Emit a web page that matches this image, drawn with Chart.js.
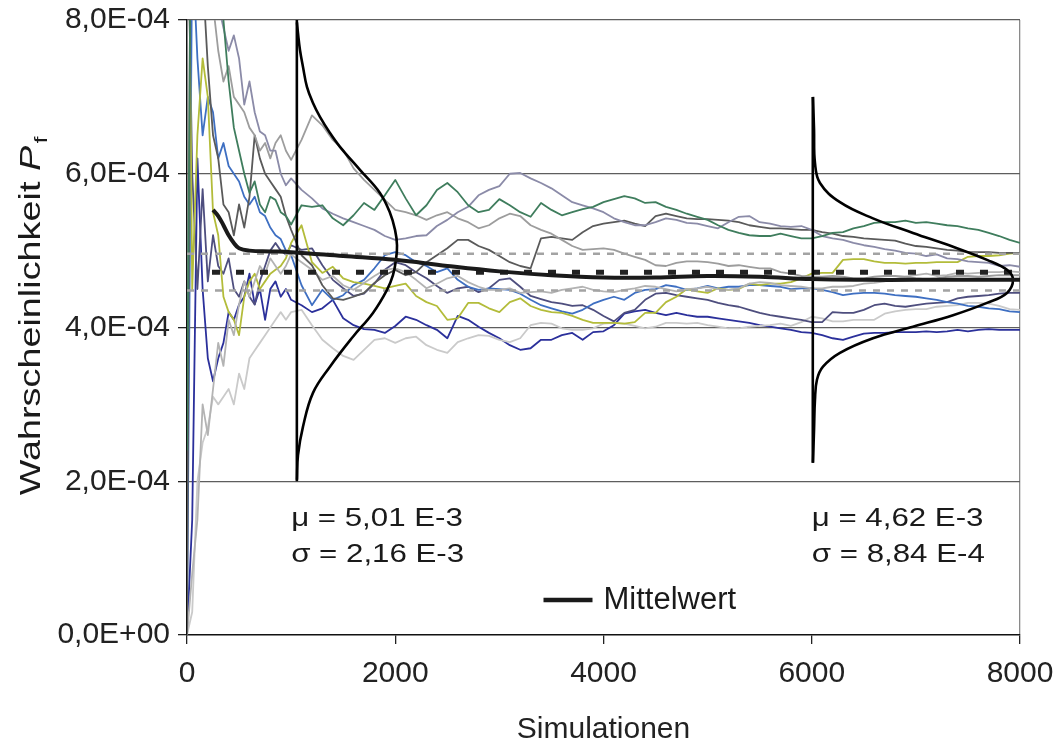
<!DOCTYPE html>
<html>
<head>
<meta charset="utf-8">
<script src="https://cdn.jsdelivr.net/npm/chart.js@4.4.1/dist/chart.umd.min.js"></script>
<style>
  html, body { margin: 0; padding: 0; background: #fff; }
  canvas { display: block; }
</style>
</head>
<body>
<canvas id="pfChart" width="1061" height="746"></canvas>
<script>
// all probabilities below are in units of 1E-04

// number of simulations: every 50 up to 1000, then every 100
const sims = [];
for (let s = 0; s <= 1000; s += 50) sims.push(s);
for (let s = 1100; s <= 8000; s += 100) sims.push(s);

const runGreen = [2.4,12,11,10.5,9.5,9,8.6,8.0,7.2,6.6,6.3,6.0,5.75,5.9,5.6,5.5,5.7,5.66,5.5,5.45,5.34,
  5.59,5.57,5.59,5.42,5.33,5.46,5.62,5.53,5.72,5.92, 5.68,5.46,5.59,5.79,5.88,5.76,5.59,5.50,5.53,5.67,
  5.59,5.50,5.44,5.62,5.53,5.46,5.50,5.54,5.57,5.63, 5.67,5.71,5.68,5.62,5.63,5.57,5.53,5.48,5.44,5.40,
  5.33,5.27,5.23,5.20,5.19,5.19,5.22,5.19,5.16,5.16, 5.19,5.23,5.24,5.29,5.32,5.36,5.37,5.37,5.39,5.36,
  5.37,5.35,5.33,5.32,5.29,5.27,5.23,5.19,5.14,5.10];
const runLavender = [15,13,11,9.5,8.5,8.2,8.2,7.9,7.6,7.8,7.5,6.9,7.2,6.8,6.55,6.5,6.3,6.3,6.0,5.85,5.94,
  5.79,5.68,5.55,5.48,5.42,5.37,5.32,5.27,5.19,5.14, 5.16,5.19,5.20,5.32,5.40,5.50,5.57,5.72,5.79,5.84,
  6.00,6.01,5.94,5.88,5.81,5.72,5.63,5.59,5.55,5.50, 5.42,5.37,5.33,5.33,5.37,5.42,5.40,5.36,5.35,5.32,
  5.29,5.37,5.44,5.45,5.37,5.35,5.32,5.31,5.32,5.27, 5.19,5.16,5.14,5.10,5.07,5.05,5.02,5.00,4.97,4.96,
  4.93,4.95,4.90,4.89,4.86,4.85,4.84,4.80,4.81,4.79];
const runDarkGray = [0,14,10,8.6,7.4,6.5,6.2,5.6,5.5,5.2,5.6,5.3,5.7,6.5,6.2,6.0,5.9,5.8,5.7,5.45,5.27,
  4.94,4.81,4.55,4.38,4.36,4.40,4.45,4.58,4.68,4.75, 4.68,4.72,4.85,4.94,5.03,5.14,5.14,5.06,5.01,4.93,
  4.85,4.80,4.77,5.16,5.18,5.16,5.14,5.24,5.32,5.35, 5.37,5.39,5.35,5.32,5.45,5.48,5.45,5.42,5.41,5.41,
  5.40,5.39,5.37,5.33,5.31,5.29,5.29,5.28,5.27,5.27, 5.24,5.22,5.19,5.18,5.16,5.15,5.14,5.13,5.09,5.06,
  5.05,5.03,5.01,5.00,4.98,4.98,4.98,4.97,4.97,4.97];
const runYellow = [12,4.5,6.5,7.5,7.0,5.5,5.2,4.4,4.2,4.1,3.9,4.4,4.6,4.7,4.5,4.6,4.7,4.75,4.8,4.9,5.1,
  5.33,4.85,4.71,4.79,4.64,4.59,4.57,4.54,4.51,4.54, 4.57,4.41,4.33,4.28,4.10,4.12,4.32,4.32,4.25,4.20,
  4.33,4.38,4.28,4.23,4.20,4.19,4.15,4.10,4.06,4.06, 4.06,4.05,4.07,4.19,4.19,4.33,4.40,4.50,4.47,4.45,
  4.51,4.49,4.50,4.57,4.55,4.57,4.57,4.59,4.64,4.70, 4.71,4.71,4.88,4.89,4.89,4.86,4.84,4.84,4.83,4.84,
  4.84,4.85,4.85,4.85,4.92,4.93,4.93,4.94,4.96,4.97];
const runBlue = [0,9,7.5,6.5,7.0,6.8,6.2,6.4,6.1,6.0,5.9,5.7,5.6,5.7,5.5,5.45,5.3,5.2,5.15,5.0,4.94,
  4.55,4.29,4.49,4.36,4.42,4.55,4.62,4.77,4.94,4.98, 4.94,4.85,4.80,4.72,4.77,4.62,4.53,4.49,4.51,4.50,
  4.49,4.44,4.36,4.29,4.25,4.21,4.18,4.23,4.31,4.36, 4.40,4.36,4.45,4.49,4.50,4.55,4.53,4.49,4.51,4.54,
  4.51,4.53,4.53,4.55,4.55,4.54,4.53,4.50,4.51,4.51, 4.49,4.46,4.42,4.44,4.45,4.45,4.44,4.42,4.41,4.40,
  4.38,4.36,4.33,4.31,4.28,4.27,4.25,4.24,4.21,4.20];
const runNavy = [0,1.5,6.2,4.5,3.6,3.3,3.6,3.8,4.2,4.1,4.3,4.4,4.7,4.3,4.5,4.1,4.5,4.6,4.4,4.5,4.36,
  4.29,4.20,4.25,4.36,4.12,4.03,3.98,3.97,3.93,4.02, 4.14,4.10,4.03,3.97,3.86,4.15,4.10,4.01,3.93,3.86,
  3.77,3.71,3.73,3.84,3.84,3.90,3.93,3.84,3.94,3.95, 4.03,4.18,4.21,4.23,4.19,4.16,4.19,4.16,4.14,4.14,
  4.12,4.10,4.08,4.06,4.03,4.01,3.99,3.97,3.94,3.93, 3.90,3.86,3.84,3.88,3.92,3.93,3.93,3.94,3.94,3.94,
  3.95,3.94,3.95,3.97,3.95,3.97,3.98,3.97,3.97,3.97];
const runPurple = [10,6.0,4.5,5.8,4.6,5.2,4.8,4.7,4.9,4.5,4.4,4.6,4.4,4.3,4.6,4.8,5.0,5.1,5.0,4.95,5.07,
  5.01,5.03,4.81,4.62,4.51,4.41,4.44,4.57,4.75,4.85, 4.81,4.72,4.64,4.54,4.45,4.51,4.53,4.46,4.51,4.62,
  4.64,4.53,4.41,4.37,4.33,4.31,4.28,4.29,4.23,4.15, 4.08,4.19,4.23,4.36,4.44,4.45,4.42,4.40,4.38,4.36,
  4.32,4.29,4.27,4.23,4.19,4.16,4.14,4.12,4.10,4.07, 4.07,4.20,4.19,4.19,4.23,4.29,4.31,4.28,4.27,4.29,
  4.31,4.32,4.33,4.38,4.40,4.41,4.42,4.44,4.45,4.45];
const runLightGray = [0,0.3,2.0,2.5,2.7,3.1,3.0,3.1,3.2,3.0,3.4,3.2,3.6,3.7,3.8,3.9,4.0,4.1,4.2,4.1,4.2,
  4.23,4.03,3.84,3.73,3.63,3.58,3.71,3.84,3.86,3.80, 3.86,3.88,3.77,3.71,3.67,3.81,3.86,3.90,3.89,3.84,
  3.81,3.86,4.03,4.06,4.05,3.99,3.97,3.97,3.99,4.05, 4.06,4.05,4.02,3.99,4.01,4.06,4.06,4.05,4.06,4.03,
  4.01,3.99,3.99,4.01,4.02,4.03,4.05,4.02,4.07,4.14, 4.12,4.08,4.08,4.10,4.10,4.10,4.18,4.21,4.23,4.24,
  4.24,4.27,4.28,4.29,4.32,4.32,4.31,4.28,4.24,4.23];
const runMidGray = [15,12,10,9.0,8.5,8.2,7.6,7.2,7.4,7.0,6.9,6.8,6.6,6.5,6.3,6.4,6.2,6.4,6.5,6.3,6.18,
  6.44,6.76,6.63,6.44,6.31,6.07,5.92,5.79,5.66,5.53, 5.50,5.46,5.40,5.46,5.50,5.42,5.37,5.29,5.33,5.42,
  5.48,5.45,5.33,5.27,5.22,5.14,5.06,5.01,5.02,5.03, 5.01,4.96,4.92,4.88,4.81,4.80,4.84,4.86,4.86,4.85,
  4.83,4.80,4.81,4.79,4.77,4.77,4.72,4.70,4.67,4.66, 4.66,4.67,4.66,4.64,4.64,4.66,4.67,4.67,4.66,4.64,
  4.63,4.64,4.66,4.67,4.67,4.66,4.67,4.68,4.68,4.68];
const runPaleGray = [0,0.8,1.5,3.0,2.6,3.2,3.8,3.5,4.1,3.9,4.3,4.6,4.4,4.6,4.8,4.7,4.9,4.8,4.7,4.8,4.95,
  4.85,4.75,4.62,4.67,4.55,4.49,4.58,4.67,4.75,4.77, 4.72,4.62,4.51,4.57,4.64,4.67,4.59,4.53,4.49,4.49,
  4.51,4.45,4.46,4.47,4.45,4.49,4.51,4.53,4.49,4.47, 4.46,4.49,4.51,4.54,4.53,4.50,4.47,4.50,4.51,4.53,
  4.50,4.49,4.51,4.57,4.59,4.58,4.55,4.54,4.53,4.51, 4.51,4.53,4.53,4.54,4.57,4.58,4.60,4.63,4.66,4.68,
  4.70,4.67,4.68,4.71,4.70,4.71,4.72,4.72,4.73,4.72];

// running mean of all simulations
const meanSims   = [250,300,350,400,450,500,600,800,1000,1500,2000,2500,3000,3500,4000,4500,5000,5500,6000,6500,7000,7500,8000];
const meanValues = [5.53,5.45,5.33,5.20,5.10,5.03,5.00,4.99,4.98,4.93,4.88,4.80,4.73,4.68,4.65,4.65,4.67,4.66,4.63,4.62,4.62,4.62,4.62];

// reference levels: target value and band
const refTarget = 4.72;
const refBand = [4.96, 4.48];

// fitted distributions drawn sideways (x = simulations, y = probability)
const dist1Sims   = [1056,1066,1085,1114,1152,1210,1277,1373,1469,1661,1853,1950,1998,2017,2007,1978,1921,1786,1594,1373,1210,1114,1066,1056];
const dist1Values = [7.97,7.83,7.61,7.39,7.13,6.92,6.74,6.53,6.35,6.05,5.75,5.49,5.27,5.07,4.88,4.68,4.49,4.19,3.88,3.49,3.15,2.71,2.34,2.02];
const dist1Base = { sims: 1055, from: 2.0, to: 8.0 };
const dist2Sims   = [6012,6022,6031,6079,6271,6588,6972,7357,7683,7875,7933,7875,7683,7357,6972,6588,6271,6108,6050,6031,6022,6012];
const dist2Values = [7.00,6.57,6.14,5.88,5.63,5.42,5.23,5.05,4.88,4.75,4.62,4.45,4.32,4.16,4.01,3.86,3.67,3.49,3.32,3.06,2.67,2.24];
const dist2Base = { sims: 6010, from: 2.24, to: 7.0 };

const notes = [
  { at: 1000, lines: ['\u03bc = 5,01 E-3', '\u03c3 = 2,16 E-3'] },
  { at: 6000, lines: ['\u03bc = 4,62 E-3', '\u03c3 = 8,84 E-4'] }
];
const noteRows = [1.42, 0.95];

const xTicks = [0, 2000, 4000, 6000, 8000];
const FONT = '"Liberation Sans", Arial, sans-serif';

const pts = (xs, ys) => xs.map((x, i) => ({ x: x, y: ys[i] }));

const runs = [
  { data: runGreen, color: '#3f7d5d' },
  { data: runLavender, color: '#8b8ba8' },
  { data: runMidGray, color: '#9d9d9d' },
  { data: runDarkGray, color: '#5a5a5a' },
  { data: runPaleGray, color: '#b3b3b3' },
  { data: runYellow, color: '#b3bc3a' },
  { data: runBlue, color: '#3e6fc2' },
  { data: runPurple, color: '#4e4e7e' },
  { data: runLightGray, color: '#cacaca' },
  { data: runNavy, color: '#2b309b' }
];

const datasets = [
  { label: 'Mittelwert', data: pts(meanSims, meanValues), borderColor: '#1a1a1a', borderWidth: 4, tension: 0.4 },
  { label: 'dist1', data: pts(dist1Sims, dist1Values), borderColor: '#000', borderWidth: 2.6, tension: 0.4 },
  { label: 'dist1base', data: [{ x: dist1Base.sims, y: dist1Base.from }, { x: dist1Base.sims, y: dist1Base.to }], borderColor: '#000', borderWidth: 2.6 },
  { label: 'dist2', data: pts(dist2Sims, dist2Values), borderColor: '#000', borderWidth: 2.6, tension: 0.4 },
  { label: 'dist2base', data: [{ x: dist2Base.sims, y: dist2Base.from }, { x: dist2Base.sims, y: dist2Base.to }], borderColor: '#000', borderWidth: 2.6 },
  { label: 'target', data: [{ x: 240, y: refTarget }, { x: 8000, y: refTarget }], borderColor: '#222', borderWidth: 5, borderDash: [8, 16] },
  ...refBand.map(v => ({ label: 'band', data: [{ x: 0, y: v }, { x: 8000, y: v }], borderColor: '#a3a3a3', borderWidth: 2.5, borderDash: [7, 7] })),
  ...runs.map((r, i) => ({ label: 'run' + (i + 1), data: pts(sims, r.data), borderColor: r.color, borderWidth: 1.8 }))
];

function sciLabel(v) {
  const [m, e] = (v * 1e-4).toExponential(1).split('e');
  const exp = parseInt(e, 10);
  return m.replace('.', ',') + 'E' + (exp < 0 ? '-' : '+') + String(Math.abs(exp)).padStart(2, '0');
}

const textLayer = {
  id: 'textLayer',
  afterDraw(chart) {
    const { ctx, chartArea, scales: { x, y } } = chart;
    ctx.save();
    ctx.fillStyle = '#1a1a1a';

    // mu / sigma of the two distributions
    ctx.font = '25px ' + FONT;
    ctx.textBaseline = 'alphabetic';
    notes.forEach(n => {
      n.lines.forEach((t, i) => {
        ctx.save();
        ctx.translate(x.getPixelForValue(n.at), y.getPixelForValue(noteRows[i]));
        ctx.scale(1.25, 1);
        ctx.fillText(t, 0, 0);
        ctx.restore();
      });
    });

    // legend: only the mean line
    const cx = (chartArea.left + chartArea.right) / 2;
    const ly = chartArea.bottom - 35;
    ctx.strokeStyle = '#1a1a1a';
    ctx.lineWidth = 4.5;
    ctx.beginPath();
    ctx.moveTo(cx - 60, ly);
    ctx.lineTo(cx - 11, ly);
    ctx.stroke();
    ctx.font = '31px ' + FONT;
    ctx.textBaseline = 'middle';
    ctx.fillText(chart.data.datasets[0].label, cx, ly);

    // y title with italic P and subscript f, stretched along the text like the other labels
    const main = 'Wahrscheinlichkeit ';
    const stretch = 1.26;
    ctx.font = '30px ' + FONT;
    const w1 = ctx.measureText(main).width;
    ctx.font = 'italic 30px ' + FONT;
    const w2 = ctx.measureText('P').width;
    ctx.font = '19px ' + FONT;
    const w3 = ctx.measureText('f').width;
    const total = (w1 + w2 + w3 + 2) * stretch;
    ctx.translate(40, 316);
    ctx.rotate(-Math.PI / 2);
    ctx.translate(-total / 2, 0);
    ctx.scale(stretch, 1);
    ctx.textBaseline = 'alphabetic';
    let px = 0;
    ctx.font = '30px ' + FONT;
    ctx.fillText(main, px, 0);
    px += w1;
    ctx.font = 'italic 30px ' + FONT;
    ctx.fillText('P', px, 0);
    px += w2 + 2;
    ctx.font = '19px ' + FONT;
    ctx.fillText('f', px, 7);
    ctx.restore();
  }
};

new Chart(document.getElementById('pfChart'), {
  type: 'line',
  data: { datasets: datasets },
  options: {
    responsive: false,
    animation: false,
    devicePixelRatio: 1,
    events: [],
    layout: { padding: { top: 20, right: 41, left: 0, bottom: 0 } },
    elements: {
      point: { radius: 0 },
      line: { tension: 0, fill: false, borderCapStyle: 'butt', borderJoinStyle: 'round' }
    },
    plugins: { legend: { display: false }, tooltip: { enabled: false } },
    scales: {
      x: {
        type: 'linear',
        min: 0,
        max: 8000,
        afterBuildTicks: s => { s.ticks = xTicks.map(v => ({ value: v })); },
        afterFit: s => { s.height = 111; s.paddingLeft = 0; s.paddingRight = 0; },
        ticks: { color: '#222', font: { family: FONT, size: 30 }, padding: 12, maxRotation: 0, callback: v => String(v) },
        grid: {
          color: c => (c.tick && c.tick.value === 8000 ? '#8a8a8a' : 'rgba(0,0,0,0)'),
          tickColor: '#222',
          tickLength: 9,
          lineWidth: 1.3
        },
        border: { color: '#111', width: 1.5 },
        title: { display: true, text: 'Simulationen', color: '#222', font: { family: FONT, size: 30, lineHeight: 1 }, padding: { top: 0, bottom: 1 } }
      },
      y: {
        min: 0,
        max: 8,
        afterFit: s => { s.width = 187; s.paddingTop = 0; s.paddingBottom = 0; },
        ticks: { stepSize: 2, color: '#222', font: { family: FONT, size: 30, lineHeight: 1 }, padding: 8, callback: v => sciLabel(v) },
        grid: {
          color: c => (c.tick && c.tick.value === 0 ? 'rgba(0,0,0,0)' : '#5e5e5e'),
          tickColor: '#222',
          tickLength: 9,
          lineWidth: 1.3
        },
        border: { color: '#111', width: 1.5 }
      }
    }
  },
  plugins: [textLayer]
});
</script>
</body>
</html>
